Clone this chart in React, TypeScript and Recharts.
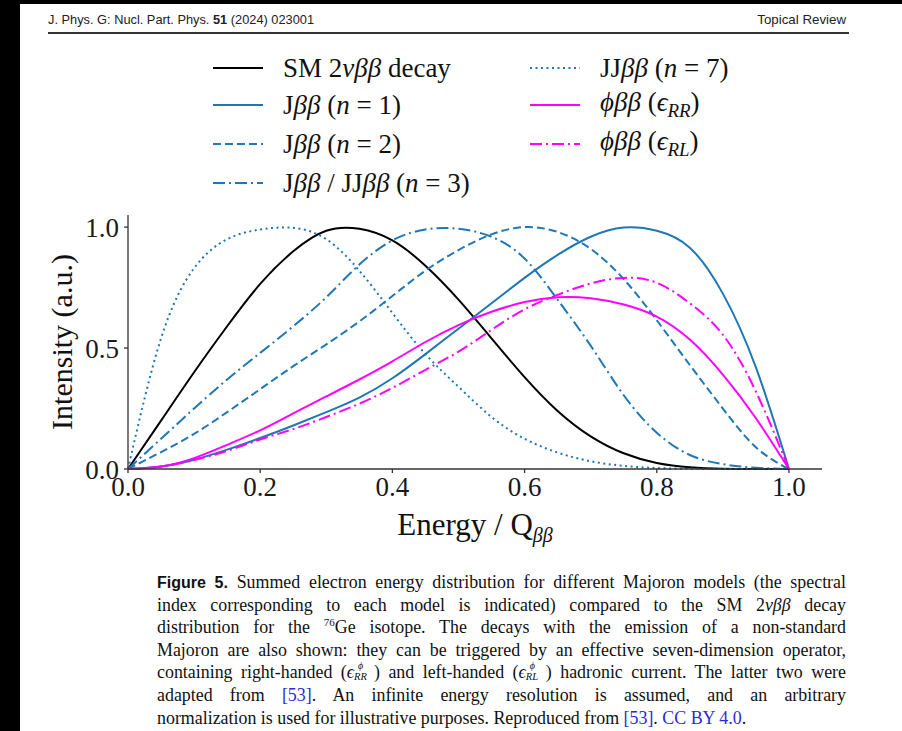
import React from "react";
import { LineChart, Line, XAxis, YAxis } from "recharts";

// Summed electron energy, in units of Q
const energy = [0, 0.05, 0.1, 0.15, 0.2, 0.25, 0.3, 0.35, 0.4, 0.45, 0.5, 0.55, 0.6, 0.65, 0.7, 0.75, 0.8, 0.85, 0.9, 0.95, 1.0];

// normalised spectra (a.u.)
const sm2nu = [0, 0.2, 0.4, 0.59, 0.765, 0.9, 0.985, 0.993, 0.945, 0.84, 0.7, 0.54, 0.38, 0.24, 0.135, 0.065, 0.025, 0.007, 0.001, 0, 0];
const jbbN1 = [0, 0.01, 0.038, 0.08, 0.128, 0.18, 0.235, 0.295, 0.375, 0.475, 0.58, 0.685, 0.79, 0.885, 0.96, 0.998, 0.985, 0.915, 0.725, 0.42, 0];
const jbbN2 = [0, 0.07, 0.145, 0.235, 0.33, 0.425, 0.515, 0.61, 0.715, 0.82, 0.905, 0.97, 1.0, 0.98, 0.91, 0.785, 0.615, 0.43, 0.25, 0.09, 0];
const jbbN3 = [0, 0.125, 0.25, 0.37, 0.48, 0.59, 0.71, 0.845, 0.945, 0.99, 0.993, 0.96, 0.87, 0.7, 0.51, 0.305, 0.15, 0.058, 0.02, 0.005, 0];
const jjbbN7 = [0, 0.54, 0.83, 0.95, 0.99, 0.997, 0.95, 0.82, 0.645, 0.475, 0.34, 0.215, 0.125, 0.068, 0.032, 0.013, 0.004, 0.001, 0, 0, 0];
const phiRR = [0, 0.01, 0.045, 0.1, 0.16, 0.23, 0.3, 0.37, 0.445, 0.525, 0.595, 0.65, 0.69, 0.71, 0.706, 0.68, 0.63, 0.535, 0.39, 0.21, 0];
const phiRL = [0, 0.01, 0.037, 0.075, 0.122, 0.165, 0.215, 0.27, 0.335, 0.41, 0.485, 0.575, 0.66, 0.72, 0.767, 0.79, 0.77, 0.685, 0.555, 0.32, 0];

const xTicks = [0, 0.2, 0.4, 0.6, 0.8, 1.0];
const yTicks = [0, 0.5, 1.0];

const BLUE = "#1f77b4";
const MAGENTA = "#ff00ff";
const SERIF = '"Liberation Serif", "Times New Roman", serif';
const SANS = '"Liberation Sans", Arial, sans-serif';

const data = energy.map((e, i) => ({
  e,
  sm: sm2nu[i],
  j1: jbbN1[i],
  j2: jbbN2[i],
  j3: jbbN3[i],
  jj7: jjbbN7[i],
  rr: phiRR[i],
  rl: phiRL[i],
}));

const series = [
  { key: "sm", color: "#000", dash: undefined as string | undefined, label: <>SM 2<i>νββ</i> decay</> },
  { key: "j1", color: BLUE, dash: undefined, label: <>J<i>ββ</i> (<i>n</i> = 1)</> },
  { key: "j2", color: BLUE, dash: "8 4", label: <>J<i>ββ</i> (<i>n</i> = 2)</> },
  { key: "j3", color: BLUE, dash: "12 4 2 4", label: <>J<i>ββ</i> / JJ<i>ββ</i> (<i>n</i> = 3)</> },
  { key: "jj7", color: BLUE, dash: "2 3.5", label: <>JJ<i>ββ</i> (<i>n</i> = 7)</> },
  { key: "rr", color: MAGENTA, dash: undefined, label: <><i>ϕββ</i> (<i>ϵ</i><sub style={{ fontSize: "0.7em" }}><i>RR</i></sub>)</> },
  { key: "rl", color: MAGENTA, dash: "12 4 2 4", label: <><i>ϕββ</i> (<i>ϵ</i><sub style={{ fontSize: "0.7em" }}><i>RL</i></sub>)</> },
];

// column-major legend placement
const legendCols = [213, 530];
const legendRows = [68, 105, 144, 183];

// stacked ϕ superscript over RR / RL subscript
const Chi = ({ sub }: { sub: string }) => (
  <span style={{ display: "inline-block", position: "relative", width: 20, height: 10 }}>
    <span style={{ position: "absolute", left: 4, top: -7, fontSize: 10, fontStyle: "italic", lineHeight: 1 }}>ϕ</span>
    <span style={{ position: "absolute", left: 0, top: 4, fontSize: 10.5, fontStyle: "italic", lineHeight: 1 }}>{sub}</span>
  </span>
);

const blue = { color: "#2b2bd6" };
const sup76 = <span style={{ position: "relative", top: -7, fontSize: 11, lineHeight: 0 }}>76</span>;

const captionLines = [
  <><b style={{ fontFamily: SANS, fontSize: 16 }}>Figure 5.</b> Summed electron energy distribution for different Majoron models (the spectral</>,
  <>index corresponding to each model is indicated) compared to the SM 2<i>νββ</i> decay</>,
  <>distribution for the {sup76}Ge isotope. The decays with the emission of a non-standard</>,
  <>Majoron are also shown: they can be triggered by an effective seven-dimension operator,</>,
  <>containing right-handed (<i>ϵ</i><Chi sub="RR" />) and left-handed (<i>ϵ</i><Chi sub="RL" />) hadronic current. The latter two were</>,
  <>adapted from <span style={blue}>[53]</span>. An infinite energy resolution is assumed, and an arbitrary</>,
  <>normalization is used for illustrative purposes. Reproduced from <span style={blue}>[53]</span>. <span style={blue}>CC BY 4.0</span>.</>,
];

export default function App() {
  const tickStyle = { fontSize: 27, fill: "#1a1a1a", fontFamily: SERIF };
  return (
    <div style={{ position: "absolute", left: 0, top: 0, width: 902, height: 731, background: "#000", overflow: "hidden" }}>
      <div style={{ position: "absolute", left: 20, top: 4, width: 882, height: 727, background: "#fff" }} />

      {/* running head */}
      <div style={{ position: "absolute", left: 48, top: 12, fontFamily: SANS, fontSize: 12.8, color: "#222" }}>
        J. Phys. G: Nucl. Part. Phys. <b>51</b> (2024) 023001
      </div>
      <div style={{ position: "absolute", right: 902 - 846, top: 12, fontFamily: SANS, fontSize: 13.3, color: "#222" }}>
        Topical Review
      </div>
      <div style={{ position: "absolute", left: 48, top: 32, width: 801, height: 2, background: "#333" }} />

      <div style={{ position: "absolute", left: 0, top: 0 }}>
        <LineChart width={902} height={560} data={data} margin={{ top: 215, right: 80, left: 58, bottom: 51 }}>
          <XAxis
            type="number"
            dataKey="e"
            domain={[0, 1.05]}
            ticks={xTicks}
            tickFormatter={(v: number) => v.toFixed(1)}
            height={40}
            tickSize={4}
            tickMargin={4}
            stroke="#333"
            strokeWidth={1.3}
            tick={tickStyle}
          />
          <YAxis
            type="number"
            domain={[0, 1.05]}
            ticks={yTicks}
            tickFormatter={(v: number) => v.toFixed(1)}
            width={70}
            tickSize={4}
            tickMargin={5}
            stroke="#333"
            strokeWidth={1.3}
            tick={tickStyle}
          />
          {series.map((s) => (
            <Line
              key={s.key}
              type="natural"
              dataKey={s.key}
              stroke={s.color}
              strokeWidth={2}
              strokeDasharray={s.dash}
              dot={false}
              activeDot={false}
              isAnimationActive={false}
            />
          ))}
        </LineChart>
      </div>

      {/* legend */}
      {series.map((s, i) => {
        const col = i < 4 ? 0 : 1;
        const row = i < 4 ? i : i - 4;
        return (
          <div
            key={s.key}
            style={{
              position: "absolute",
              left: legendCols[col],
              top: legendRows[row] - 19,
              height: 38,
              display: "flex",
              alignItems: "center",
              fontFamily: SERIF,
              fontSize: 27,
              color: "#111",
              whiteSpace: "nowrap",
            }}
          >
            <svg width={50} height={6} style={{ marginRight: 20 }}>
              <line x1={0} y1={3} x2={50} y2={3} stroke={s.color} strokeWidth={2} strokeDasharray={s.dash} />
            </svg>
            <span>{s.label}</span>
          </div>
        );
      })}

      {/* axis titles */}
      <div
        style={{
          position: "absolute",
          left: 62,
          top: 342,
          transform: "translate(-50%, -50%) rotate(-90deg)",
          fontFamily: SERIF,
          fontSize: 30,
          color: "#111",
          whiteSpace: "nowrap",
        }}
      >
        Intensity (a.u.)
      </div>
      <div
        style={{
          position: "absolute",
          left: 475,
          top: 527,
          transform: "translate(-50%, -50%)",
          fontFamily: SERIF,
          fontSize: 31,
          color: "#111",
          whiteSpace: "nowrap",
        }}
      >
        Energy / Q<sub style={{ fontSize: 20, fontStyle: "italic" }}>ββ</sub>
      </div>

      {/* caption */}
      <div style={{ position: "absolute", left: 157, top: 571, width: 689, fontFamily: SERIF, fontSize: 17.9, color: "#111" }}>
        {captionLines.map((ln, i) => {
          const last = i === captionLines.length - 1;
          return (
            <div
              key={i}
              style={{
                height: 22.6,
                lineHeight: "22.6px",
                textAlign: "justify",
                textAlignLast: last ? "left" : "justify",
                wordSpacing: last ? 0 : -1.5,
              }}
            >
              {ln}
            </div>
          );
        })}
      </div>
    </div>
  );
}
